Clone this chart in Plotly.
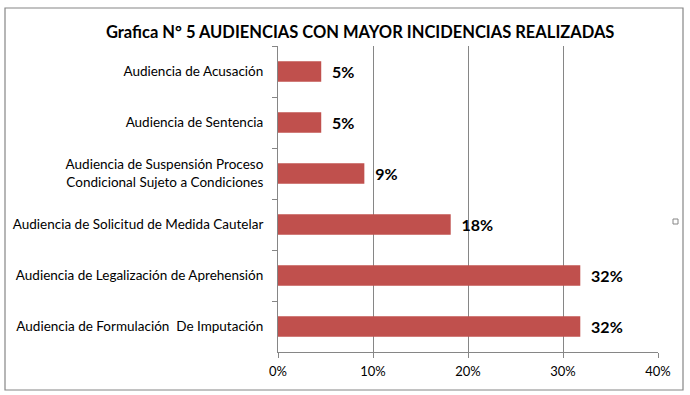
import plotly.graph_objects as go

categories = [
    "Audiencia de Acusación",
    "Audiencia de Sentencia",
    "Audiencia de Suspensión Proceso<br>Condicional Sujeto a Condiciones",
    "Audiencia de Solicitud de Medida Cautelar",
    "Audiencia de Legalización de Aprehensión",
    "Audiencia de Formulación  De Imputación",
]
values = [0.0455, 0.0455, 0.0909, 0.1818, 0.3182, 0.3182]
x_ticks = [0, 0.1, 0.2, 0.3, 0.4]
x_ticklabels = ["0%", "10%", "20%", "30%", "40%"]
title_text = "Grafica N° 5 AUDIENCIAS CON MAYOR INCIDENCIAS REALIZADAS"

FONT = "Lato, Open Sans, Liberation Sans, sans-serif"

fig = go.Figure(go.Bar(
    x=values,
    y=categories,
    orientation="h",
    marker=dict(color="#C0504D", line=dict(width=0)),
    width=0.4,
    texttemplate="\u00a0\u00a0%{x:.0%}",
    textposition="outside",
    textfont=dict(family=FONT, size=16, color="#000000", weight="bold"),
    cliponaxis=False,
    hoverinfo="skip",
))

fig.update_layout(
    width=690, height=395,
    margin=dict(l=278, r=32, t=46, b=43),
    paper_bgcolor="white",
    plot_bgcolor="white",
    showlegend=False,
    font=dict(family=FONT, size=13, color="#000000"),
    title=dict(text="<b>" + title_text + "</b>", x=0.522, xanchor="center",
               y=0.918, yanchor="middle",
               font=dict(family=FONT, size=16.5, color="#000000")),
    xaxis=dict(
        range=[0, 0.4], tickvals=x_ticks, ticktext=x_ticklabels,
        showgrid=True, gridcolor="#868686", gridwidth=1,
        showline=True, linecolor="#868686", linewidth=1,
        ticks="outside", ticklen=5, tickcolor="#868686",
        tickfont=dict(size=13), zeroline=False, fixedrange=True,
        ticklabelstandoff=2,
    ),
    yaxis=dict(
        autorange="reversed",
        showline=True, linecolor="#868686", linewidth=1,
        ticks="outside", ticklen=5, tickcolor="#868686",
        tickson="boundaries", showgrid=False,
        ticklabelstandoff=11,
        tickfont=dict(size=13.5), fixedrange=True,
    ),
    shapes=[
        dict(type="rect", xref="paper", yref="paper",
             x0=(5 - 278) / 380, x1=(683 - 278) / 380,
             y0=(352 - 390) / 306, y1=(352 - 8) / 306,
             line=dict(color="#868686", width=1.2), fillcolor="rgba(0,0,0,0)",
             layer="below"),
        dict(type="rect", xref="paper", yref="paper",
             x0=(673 - 278) / 380, x1=(678 - 278) / 380,
             y0=(352 - 224) / 306, y1=(352 - 219) / 306,
             line=dict(color="#868686", width=1), fillcolor="white"),
    ],
)

fig.write_html("out.html", config={"displayModeBar": False},
               post_script="document.body.style.margin='0px';")
